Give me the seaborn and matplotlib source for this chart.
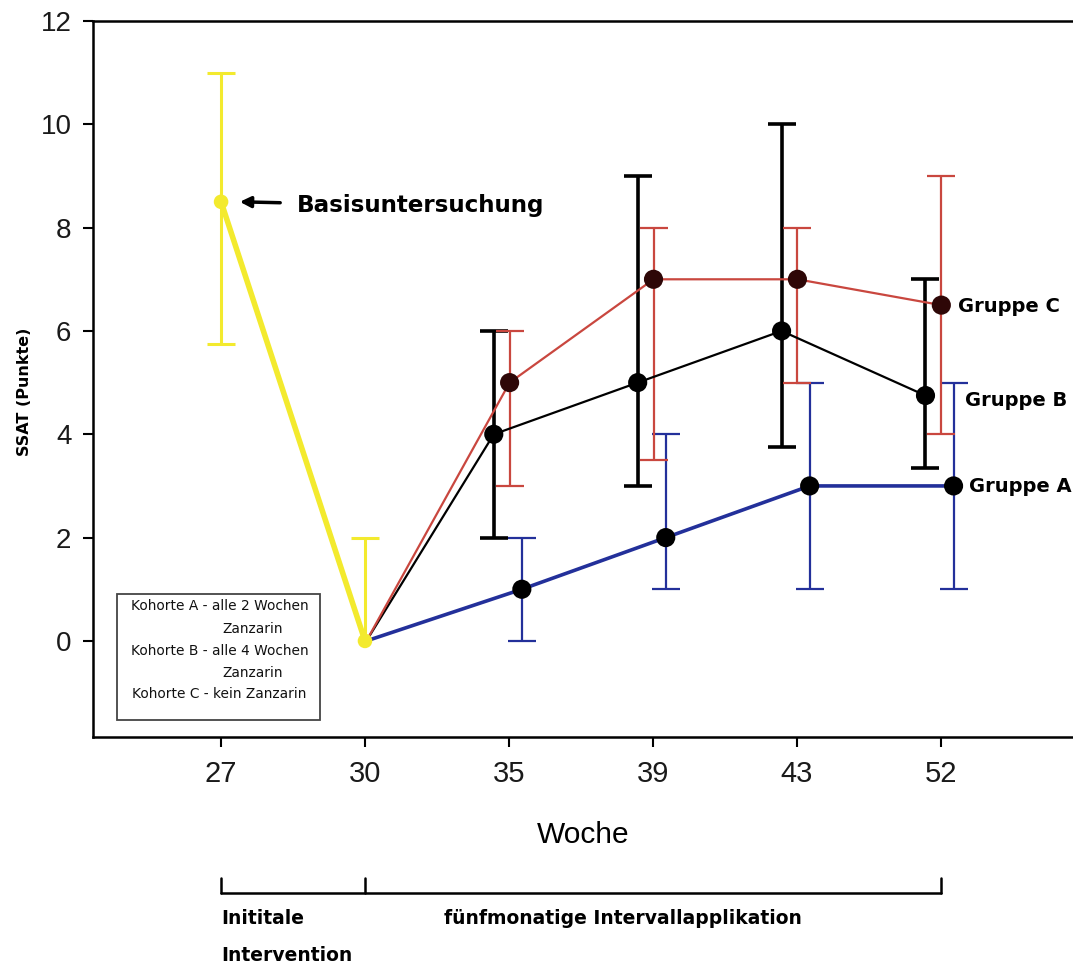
import numpy as np
import pandas as pd
import matplotlib
matplotlib.use("Agg")
import matplotlib.pyplot as plt
import seaborn as sns
from matplotlib.patches import Rectangle

# ---------------- data ----------------
weeks = ["27", "30", "35", "39", "43", "52"]

base_weeks = ["27", "30"]
base_vals = [8.5, 0.0]
base_lo = [5.75, 0.0]
base_hi = [11.0, 2.0]

group_weeks = ["35", "39", "43", "52"]
a_vals = [1.0, 2.0, 3.0, 3.0]
a_lo = [0.0, 1.0, 1.0, 1.0]
a_hi = [2.0, 4.0, 5.0, 5.0]

b_vals = [4.0, 5.0, 6.0, 4.75]
b_lo = [2.0, 3.0, 3.75, 3.35]
b_hi = [6.0, 9.0, 10.0, 7.0]

c_vals = [5.0, 7.0, 7.0, 6.5]
c_lo = [3.0, 3.5, 5.0, 4.0]
c_hi = [6.0, 8.0, 8.0, 9.0]

group_names = ["Gruppe A", "Gruppe B", "Gruppe C"]
legend_lines = ["Kohorte A - alle 2 Wochen", "Zanzarin",
                "Kohorte B - alle 4 Wochen", "Zanzarin",
                "Kohorte C - kein Zanzarin"]

# ---------------- style ----------------
sns.set_theme(style="white")
plt.rcParams['font.family'] = ['Liberation Sans', 'DejaVu Sans']
plt.rcParams['text.color'] = 'black'
plt.rcParams['axes.labelcolor'] = 'black'
BOLD = ['DejaVu Sans']

fig = plt.figure(figsize=(10.73, 9.63), dpi=100)
ax = fig.add_axes([93/1073, 226/963, 1 - 93/1073, (737-21)/963])

pos = {w: i for i, w in enumerate(weeks)}

YELLOW = "#f3ea2e"
RED = "#c9473f"
BLUE = "#23309a"
BLACK = "#000000"

# baseline (yellow)
bx = [pos[w] for w in base_weeks]
ax.errorbar(bx[0], base_vals[0], yerr=[[base_vals[0]-base_lo[0]], [base_hi[0]-base_vals[0]]],
            fmt="none", ecolor=YELLOW, elinewidth=2.2, capsize=10, capthick=2.2, zorder=2)
eb = ax.errorbar(bx[1], base_vals[1], yerr=[[base_vals[1]-base_lo[1]], [base_hi[1]-base_vals[1]]],
                 fmt="none", ecolor=YELLOW, elinewidth=2.2, capsize=10, capthick=2.2, zorder=2)
if len(eb.lines[1]) > 0:
    eb.lines[1][0].set_visible(False)  # no cap at the lower end
df_base = pd.DataFrame({"x": bx, "y": base_vals})
sns.lineplot(data=df_base, x="x", y="y", color=YELLOW, linewidth=4, ax=ax, zorder=3)

groups = [
    ("Gruppe A", a_vals, a_lo, a_hi, 0.09, BLUE, 2.6, BLUE, 1.6, BLACK),
    ("Gruppe B", b_vals, b_lo, b_hi, -0.105, BLACK, 1.6, BLACK, 2.6, BLACK),
    ("Gruppe C", c_vals, c_lo, c_hi, 0.005, RED, 1.6, RED, 1.6, "#2e0707"),
]

start_x = pos["30"] + 0.01
start_y = base_vals[1]
for name, vals, lo, hi, off, lcol, lw, ecol, elw, mcol in groups:
    gx = [pos[w] + off for w in group_weeks]
    ax.errorbar(gx, vals, yerr=[np.subtract(vals, lo), np.subtract(hi, vals)],
                fmt="none", ecolor=ecol, elinewidth=elw, capsize=10, capthick=elw, zorder=4)
    df = pd.DataFrame({"x": [start_x] + gx, "y": [start_y] + list(vals)})
    sns.lineplot(data=df, x="x", y="y", color=lcol, linewidth=lw, ax=ax, zorder=5,
                 sort=False)
    sns.scatterplot(x=gx, y=vals, color=mcol, s=190, edgecolor="none", ax=ax, zorder=6)

sns.scatterplot(x=bx, y=base_vals, color=YELLOW, s=110, edgecolor="none", ax=ax, zorder=7)

# group labels
label_pos = {"Gruppe C": (5.12, 6.48), "Gruppe B": (5.17, 4.66), "Gruppe A": (5.20, 2.98)}
for g in group_names:
    x, y = label_pos[g]
    ax.text(x, y, g, fontsize=14, fontweight="bold", family=BOLD, color="black",
            va="center", ha="left", zorder=8)

# Basisuntersuchung annotation
ax.annotate("Basisuntersuchung", xy=(0.13, 8.5), xytext=(0.53, 8.42),
            fontsize=16.6, fontweight="bold", family=BOLD, color="black",
            va="center", ha="left",
            arrowprops=dict(arrowstyle="-|>", color="black", lw=2.5, mutation_scale=16,
                            shrinkA=10, shrinkB=0))

# cohort box
ax.add_patch(Rectangle((-0.72, -1.53), 1.41, 2.44, facecolor="white", edgecolor="#444444",
                       lw=1.3, zorder=1))
ltxt_y = [0.68, 0.23, -0.2, -0.62, -1.03]
ltxt_x = [-0.01, 0.22, -0.01, 0.22, -0.01]
for t, x, y in zip(legend_lines, ltxt_x, ltxt_y):
    ax.text(x, y, t, fontsize=9.9, family=['DejaVu Sans'], ha="center", va="center",
            color="#111111", zorder=2)

# axes
ax.set_xlim(-0.89, 5.92)
ax.set_ylim(-1.86, 12)
ax.set_xticks(range(len(weeks)))
ax.set_xticklabels(weeks)
ax.set_yticks(np.arange(0, 13, 2))
ax.tick_params(axis="both", direction="out", length=7.5, width=1.5, color="black",
               bottom=True, left=True)
ax.tick_params(axis="x", labelsize=21, pad=9, labelcolor="#1a1a1a")
ax.tick_params(axis="y", labelsize=20, pad=8, labelcolor="#1a1a1a")
ax.set_xlabel("Woche", fontsize=21.5, labelpad=24, color="black")
ax.set_ylabel("SSAT (Punkte)", fontsize=11.5, fontweight="bold", family=BOLD, color="black")
ax.yaxis.set_label_coords(-0.062, 0.482)
for s in ["left", "bottom", "top"]:
    ax.spines[s].set_color("black")
    ax.spines[s].set_linewidth(1.8)
ax.spines["right"].set_visible(False)
ax.grid(False)

# bracket below the axis
by = -4.88
ax.plot([0, 5], [by, by], color="black", lw=1.8, clip_on=False)
for bxp in [0, 1, 5]:
    ax.plot([bxp, bxp], [by, by + 0.3], color="black", lw=1.8, clip_on=False)
ax.text(0.0, -5.38, "Inititale", fontsize=13.5, fontweight="bold", family=BOLD,
        color="black", ha="left", va="center")
ax.text(0.0, -6.08, "Intervention", fontsize=13.5, fontweight="bold", family=BOLD,
        color="black", ha="left", va="center")
ax.text(1.55, -5.38, "fünfmonatige Intervallapplikation", fontsize=13.5, fontweight="bold",
        family=BOLD, color="black", ha="left", va="center")

fig.savefig("out.png", dpi=100)
